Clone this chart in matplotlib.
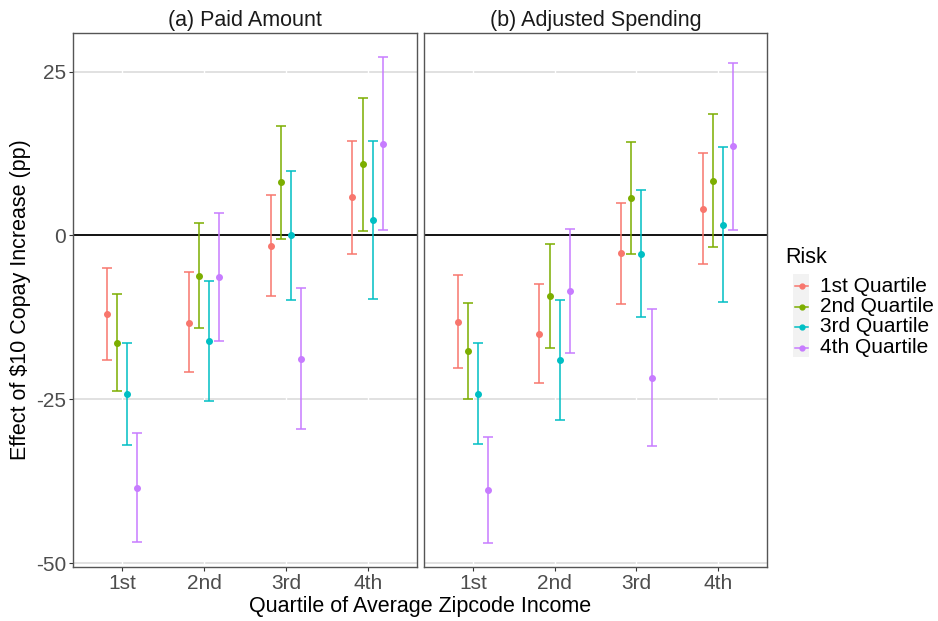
import numpy as np
import matplotlib.pyplot as plt
from matplotlib.lines import Line2D
from matplotlib.patches import Rectangle

plt.rcParams['font.family'] = ['Liberation Sans', 'DejaVu Sans']
plt.rcParams['axes.unicode_minus'] = False

income_q = ['1st', '2nd', '3rd', '4th']
risk_q = ['1st Quartile', '2nd Quartile', '3rd Quartile', '4th Quartile']
colors = ['#F8766D', '#7CAE00', '#00BFC4', '#C77CFF']

# (a) paid amount: estimate, lower, upper per risk quartile (rows) x income quartile (cols)
paid_est = [[-12.0, -13.3, -1.6, 5.8],
            [-16.4, -6.2, 8.2, 10.9],
            [-24.2, -16.1, 0.0, 2.3],
            [-38.5, -6.4, -18.8, 13.9]]
paid_lo = [[-19.0, -20.8, -9.2, -2.8],
           [-23.7, -14.1, -0.5, 0.7],
           [-32.0, -25.3, -9.9, -9.7],
           [-46.8, -16.1, -29.5, 0.8]]
paid_hi = [[-4.9, -5.6, 6.2, 14.4],
           [-9.0, 1.9, 16.7, 21.0],
           [-16.4, -6.9, 9.8, 14.4],
           [-30.2, 3.5, -8.0, 27.3]]

# (b) adjusted spending
adj_est = [[-13.2, -15.0, -2.7, 4.1],
           [-17.7, -9.3, 5.7, 8.3],
           [-24.2, -19.0, -2.8, 1.6],
           [-38.8, -8.5, -21.7, 13.6]]
adj_lo = [[-20.2, -22.5, -10.5, -4.4],
          [-24.9, -17.2, -2.8, -1.7],
          [-31.9, -28.1, -12.5, -10.2],
          [-46.9, -17.9, -32.1, 0.8]]
adj_hi = [[-6.1, -7.4, 5.0, 12.6],
          [-10.3, -1.3, 14.3, 18.5],
          [-16.4, -9.8, 6.9, 13.5],
          [-30.8, 1.0, -11.3, 26.3]]

panels = [('(a) Paid Amount', paid_est, paid_lo, paid_hi),
          ('(b) Adjusted Spending', adj_est, adj_lo, adj_hi)]

fig = plt.figure(figsize=(9.38, 6.21), dpi=100)
axes = [fig.add_axes([0.0778, 0.087, 0.3667, 0.8599]),
        fig.add_axes([0.452, 0.087, 0.3657, 0.8599])]

xc = np.arange(len(income_q))
for k, (ax, (title, est, lo, hi)) in enumerate(zip(axes, panels)):
    for y in [-50, -25, 25]:
        ax.axhline(y, color='#D9D9D9', lw=1.1, zorder=0)
    for x in xc:
        ax.axvline(x, color='white', lw=1.0, zorder=0.5)
    ax.axhline(0, color='black', lw=1.3, zorder=1)
    for i in range(len(risk_q)):
        e = np.array(est[i])
        yerr = [e - np.array(lo[i]), np.array(hi[i]) - e]
        ax.errorbar(xc + (i - 1.5) * 0.125, e, yerr=yerr, fmt='o', color=colors[i],
                    ms=4, elinewidth=1.1, capsize=3.6, capthick=1.1, zorder=3)
    ax.set_xlim(-0.6, 3.6)
    ax.set_ylim(-50.6, 30.9)
    ax.set_xticks(xc)
    ax.set_xticklabels(income_q)
    ax.set_yticks([-50, -25, 0, 25])
    ax.tick_params(colors='#333333', labelcolor='#4D4D4D', labelsize=15,
                   length=3, width=0.8, pad=2)
    for s in ax.spines.values():
        s.set_color('#555555')
        s.set_linewidth(1.0)
    ax.set_title(title, fontsize=15.5, color='#1A1A1A', pad=5)
    if k == 1:
        ax.tick_params(axis='y', left=False, labelleft=False)

fig.text(0.4478, 0.024, 'Quartile of Average Zipcode Income', ha='center', va='center',
         fontsize=15.5, color='black')
fig.text(0.022, 0.517, r'Effect of \$10 Copay Increase (pp)', ha='center', va='center',
         rotation=90, fontsize=15.5, color='black')

# legend
W, H = 938, 621
fig.text(785 / W, 1 - 257 / H, 'Risk', ha='left', va='center', fontsize=15.5)
fig.add_artist(Rectangle((793 / W, 1 - 357 / H), 16 / W, 83 / H,
                         transform=fig.transFigure, facecolor='#F2F2F2', edgecolor='none'))
for i, name in enumerate(risk_q):
    yy = 1 - (286 + i * 20.5) / H
    fig.add_artist(Line2D([795 / W, 808 / W], [yy, yy], transform=fig.transFigure,
                          color=colors[i], lw=1.1))
    fig.add_artist(Line2D([801.5 / W], [yy], transform=fig.transFigure, marker='o',
                          ms=3.5, color=colors[i]))
    fig.text(820 / W, yy, name, ha='left', va='center', fontsize=15)

fig.savefig('out.png', dpi=100)
